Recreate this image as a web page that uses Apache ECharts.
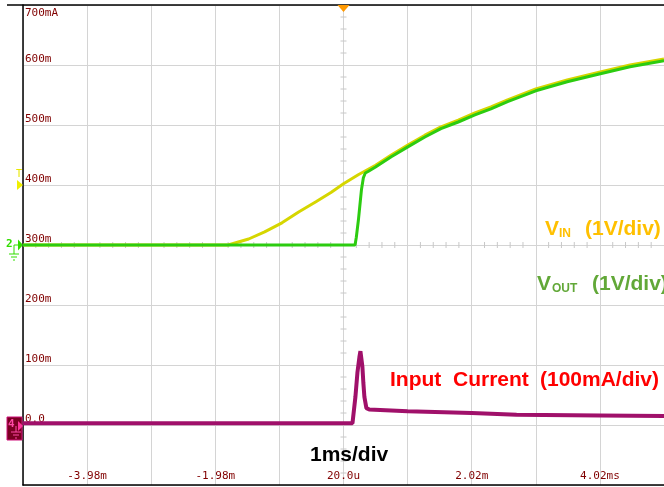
<!DOCTYPE html>
<html><head><meta charset="utf-8">
<script src="https://cdn.jsdelivr.net/npm/echarts@6/dist/echarts.min.js"></script>
<style>html,body{margin:0;padding:0;background:#fff}#c{width:664px;height:487px}</style>
</head><body><div id="c"></div><script>
// Horizontal axis in divisions (1 ms/div); 0 = trigger position (20.0u)
const xTickDivs = [-4, -2, 0, 2, 4];
const xTickLabels = ['-3.98m', '-1.98m', '20.0u', '2.02m', '4.02ms'];
// Vertical axis: screen units of channel 4 (100 mA/div)
const yTickVals = [0, 100, 200, 300, 400, 500, 600, 700];
const yTickLabels = ['0.0', '100m', '200m', '300m', '400m', '500m', '600m', '700mA'];

// VIN (channel 1), volts
const vinDiv   = [-5, -1.80, -1.77, -1.48, -1.23, -0.96, -0.70, -0.43, -0.19, 0, 0.23, 0.50, 0.745, 1.01, 1.27, 1.52, 1.79, 2.05, 2.30, 2.56, 3.0, 3.49, 3.99, 4.47, 5.0];
const vinVolts = [0, 0, 0.02, 0.10, 0.22, 0.37, 0.55, 0.72, 0.88, 1.02, 1.17, 1.33, 1.50, 1.67, 1.83, 1.97, 2.08, 2.20, 2.30, 2.42, 2.60, 2.75, 2.88, 3.00, 3.10];

// VOUT (channel 2), volts
const voutDiv   = [-5, 0.18, 0.20, 0.233, 0.264, 0.28, 0.31, 0.34, 0.39, 0.50, 0.745, 1.01, 1.27, 1.52, 1.79, 2.05, 2.30, 2.56, 3.0, 3.49, 3.99, 4.47, 5.0];
const voutVolts = [0, 0, 0.13, 0.42, 0.75, 0.92, 1.12, 1.20, 1.23, 1.30, 1.47, 1.64, 1.80, 1.94, 2.05, 2.17, 2.27, 2.39, 2.57, 2.72, 2.85, 2.97, 3.07];

// Input current (channel 4), mA
const curDiv = [-5, 0.14, 0.155, 0.186, 0.217, 0.248, 0.264, 0.28, 0.295, 0.31, 0.326, 0.357, 0.40, 1.0, 2.0, 2.7, 4.0, 5.0];
const curMilliAmps = [3, 3, 6, 47, 87, 113, 123, 120, 97, 70, 47, 28, 26, 23, 20, 17, 16, 15];

const voltOffset = 300;  // 0 V of channels 1/2 sits on the 300m line
const unitsPerVolt = 100; // 1 V/div

const chart = echarts.init(document.getElementById('c'));
const toV = v => voltOffset + v * unitsPerVolt;
const mono = 'DejaVu Sans Mono';
const sansFam = 'Liberation Sans';

chart.setOption({
  animation: false,
  backgroundColor: '#fff',
  grid: { left: 23, top: 5, width: 644, height: 480 },
  xAxis: {
    type: 'value', min: -5, max: 5, interval: 1,
    axisLine: { show: true, onZero: false, lineStyle: { color: '#000', width: 1.5 } },
    axisTick: { show: false },
    splitLine: { show: true, lineStyle: { color: '#d4d4d4', width: 1 } },
    axisLabel: {
      inside: true, margin: 3, fontFamily: mono, fontSize: 11, color: '#800000',
      showMinLabel: false, showMaxLabel: false,
      formatter: v => { const r = Math.round(v); const i = xTickDivs.indexOf(r); return (i >= 0 && Math.abs(v - r) < 1e-6) ? xTickLabels[i] : ''; }
    }
  },
  yAxis: {
    type: 'value', min: -100, max: 700, interval: 100,
    axisLine: { show: true, onZero: false, lineStyle: { color: '#000', width: 1.5 } },
    axisTick: { show: false },
    splitLine: { show: true, lineStyle: { color: '#d4d4d4', width: 1 } },
    axisLabel: {
      inside: true, margin: 2, fontFamily: mono, fontSize: 11, color: '#800000', verticalAlign: 'bottom',
      formatter: v => { const i = yTickVals.indexOf(v); return (i >= 0 && v !== 700) ? yTickLabels[i] : ''; }
    }
  },
  series: [
    { type: 'line', name: 'Input Current', showSymbol: false, z: 3,
      data: curDiv.map((d, i) => [d, curMilliAmps[i]]),
      lineStyle: { color: '#a0106a', width: 4 } },
    { type: 'line', name: 'VIN', showSymbol: false, z: 4,
      data: vinDiv.map((d, i) => [d, toV(vinVolts[i])]),
      lineStyle: { color: '#d6d600', width: 3 } },
    { type: 'line', name: 'VOUT', showSymbol: false, z: 5,
      data: voutDiv.map((d, i) => [d, toV(voutVolts[i])]),
      lineStyle: { color: '#2ccc10', width: 3 } }
  ]
});

const px = (x, y) => chart.convertToPixel({ gridIndex: 0 }, [x, y]);
const g = [];
const topY = px(0, 700)[1];
const c0 = px(0, 300);
const cx = c0[0], cy = c0[1];
// top border
g.push({ type: 'line', shape: { x1: 7, y1: topY, x2: 664, y2: topY }, style: { stroke: '#000', lineWidth: 1.5 }, z: 100 });
// center cross minor ticks
for (let k = -25; k <= 25; k++) {
  if (k % 5 === 0) continue;
  const x = px(k * 0.2, 300)[0];
  g.push({ type: 'line', shape: { x1: x, y1: cy - 3, x2: x, y2: cy + 3 }, style: { stroke: '#c8c8c8', lineWidth: 1 }, z: 1 });
}
for (let v = -100; v <= 700; v += 20) {
  if (v % 100 === 0) continue;
  const y = px(0, v)[1];
  g.push({ type: 'line', shape: { x1: cx - 3, y1: y, x2: cx + 3, y2: y }, style: { stroke: '#c8c8c8', lineWidth: 1 }, z: 1 });
}
// 700mA label
g.push({ type: 'text', x: 25, y: topY + 3, style: { text: yTickLabels[7], fontFamily: mono, fontSize: 11, fill: '#800000', verticalAlign: 'top' }, z: 100 });
// trigger marker top
g.push({ type: 'polygon', shape: { points: [[cx - 6, topY], [cx + 6, topY], [cx, topY + 7]] }, style: { fill: '#ff9900' }, z: 100 });
// channel 1 / trigger level marker
const y400 = px(0, 400)[1];
g.push({ type: 'polygon', shape: { points: [[17, y400 - 5], [23, y400], [17, y400 + 5]] }, style: { fill: '#f0f000' }, z: 100 });
g.push({ type: 'text', x: 16, y: y400 - 16, style: { text: 'T', fontFamily: mono, fontSize: 10, fill: '#e8e800' }, z: 100 });
// channel 2 marker
g.push({ type: 'polygon', shape: { points: [[18, cy - 5.5], [23, cy], [18, cy + 5.5]] }, style: { fill: '#33dd00' }, z: 100 });
g.push({ type: 'text', x: 6, y: cy - 6, style: { text: '2', fontFamily: mono, fontWeight: 'bold', fontSize: 11, fill: '#33dd00' }, z: 100 });
g.push({ type: 'polyline', shape: { points: [[18, cy], [14, cy], [14, cy + 9]] }, style: { stroke: '#33dd00', lineWidth: 1 }, z: 100 });
g.push({ type: 'line', shape: { x1: 9, y1: cy + 9, x2: 19, y2: cy + 9 }, style: { stroke: '#33dd00', lineWidth: 1 }, z: 100 });
g.push({ type: 'line', shape: { x1: 11, y1: cy + 12, x2: 17, y2: cy + 12 }, style: { stroke: '#33dd00', lineWidth: 1 }, z: 100 });
g.push({ type: 'line', shape: { x1: 13, y1: cy + 15, x2: 15, y2: cy + 15 }, style: { stroke: '#33dd00', lineWidth: 1 }, z: 100 });
// channel 4 marker
const y0 = px(0, 0)[1];
g.push({ type: 'rect', shape: { x: 7, y: y0 - 8, width: 15, height: 23 }, style: { fill: '#7a0022', stroke: '#d0107a', lineWidth: 1 }, z: 100 });
g.push({ type: 'text', x: 8, y: y0 - 6, style: { text: '4', fontFamily: mono, fontWeight: 'bold', fontSize: 11, fill: '#ff4aa8' }, z: 101 });
g.push({ type: 'polygon', shape: { points: [[18, y0 - 4], [23, y0 + 1], [18, y0 + 6]] }, style: { fill: '#ff3399' }, z: 101 });
g.push({ type: 'line', shape: { x1: 16, y1: y0 + 1, x2: 16, y2: y0 + 7 }, style: { stroke: '#ff4aa8', lineWidth: 1 }, z: 101 });
g.push({ type: 'line', shape: { x1: 11, y1: y0 + 7, x2: 21, y2: y0 + 7 }, style: { stroke: '#ff4aa8', lineWidth: 1 }, z: 101 });
g.push({ type: 'line', shape: { x1: 13, y1: y0 + 10, x2: 19, y2: y0 + 10 }, style: { stroke: '#ff4aa8', lineWidth: 1 }, z: 101 });
g.push({ type: 'line', shape: { x1: 15, y1: y0 + 13, x2: 17, y2: y0 + 13 }, style: { stroke: '#ff4aa8', lineWidth: 1 }, z: 101 });
// annotations
const T = (x, y, text, size, fill) => g.push({ type: 'text', x, y, z: 100,
  style: { text, fontFamily: sansFam, fontWeight: 'bold', fontSize: size, fill, verticalAlign: 'middle' } });
T(545, 229, 'V', 21, '#ffc000');
T(559, 234, 'IN', 12, '#ffc000');
T(585, 229, '(1V/div)', 21, '#ffc000');
T(537, 284.5, 'V', 21, '#62a838');
T(552, 288.5, 'OUT', 12, '#62a838');
T(592, 284.5, '(1V/div)', 21, '#62a838');
T(390, 380, 'Input', 21, '#ff0000');
T(453, 380, 'Current', 21, '#ff0000');
T(540, 380, '(100mA/div)', 21, '#ff0000');
T(310, 455, '1ms/div', 21, '#000');
chart.setOption({ graphic: g });
</script></body></html>
